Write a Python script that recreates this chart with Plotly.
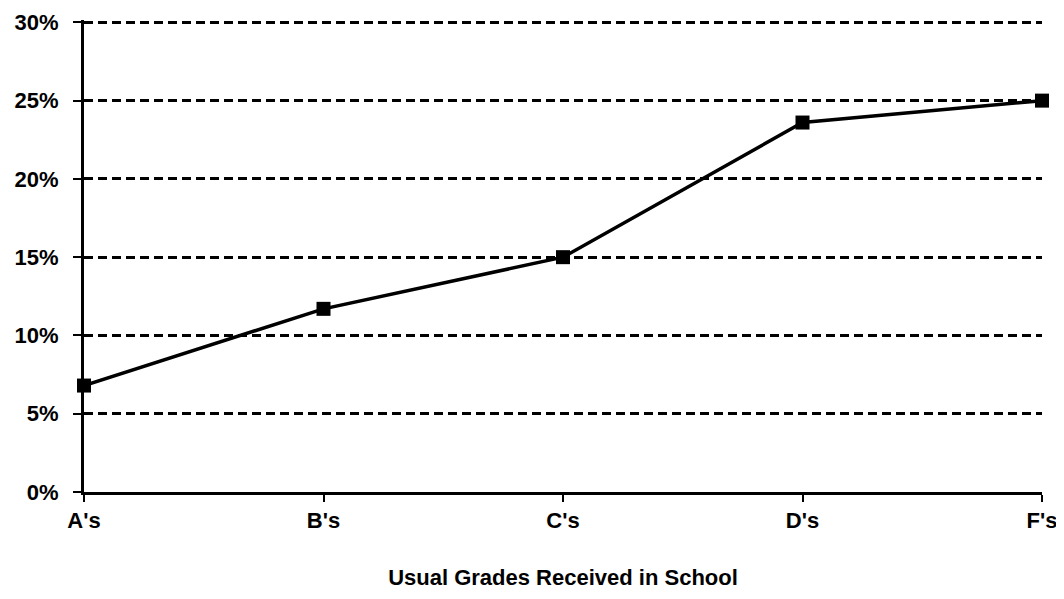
import plotly.graph_objects as go

categories = ["A's", "B's", "C's", "D's", "F's"]
values = [6.8, 11.7, 15.0, 23.6, 25.0]
y_ticks = [0, 5, 10, 15, 20, 25, 30]
y_tick_labels = ["0%", "5%", "10%", "15%", "20%", "25%", "30%"]
x_title = "Usual Grades Received in School"

font = dict(family="Liberation Sans, Arial, sans-serif", size=22, color="black", weight="bold")

fig = go.Figure()
fig.add_trace(go.Scatter(
    x=list(range(len(categories))), y=values,
    mode="lines+markers",
    line=dict(color="black", width=3.5),
    marker=dict(symbol="square", size=14, color="black"),
    cliponaxis=False,
    showlegend=False,
))

fig.update_layout(
    width=1048, height=583,
    margin=dict(l=76, r=14, t=12, b=99, autoexpand=False),
    paper_bgcolor="white", plot_bgcolor="white",
    font=font,
    xaxis=dict(
        range=[0, len(categories) - 1],
        tickvals=list(range(len(categories))), ticktext=categories,
        showgrid=False, zeroline=False, automargin=False,
        showline=True, linecolor="black", linewidth=3,
        ticks="outside", ticklen=7, tickwidth=2, tickcolor="black",
        ticklabelstandoff=0, ticklabeloverflow="allow",
        tickfont=font,
        title=dict(text=x_title, font=font, standoff=38),
    ),
    yaxis=dict(
        range=[0, 30.15],
        tickvals=y_ticks, ticktext=y_tick_labels,
        showgrid=True, gridcolor="black", gridwidth=3, griddash="9px,5px",
        zeroline=False, automargin=False,
        showline=True, linecolor="black", linewidth=3,
        ticks="outside", ticklen=8, tickwidth=2, tickcolor="black",
        ticklabelstandoff=10, ticklabeloverflow="allow",
        tickfont=font,
    ),
)

fig.write_html("out.html")
